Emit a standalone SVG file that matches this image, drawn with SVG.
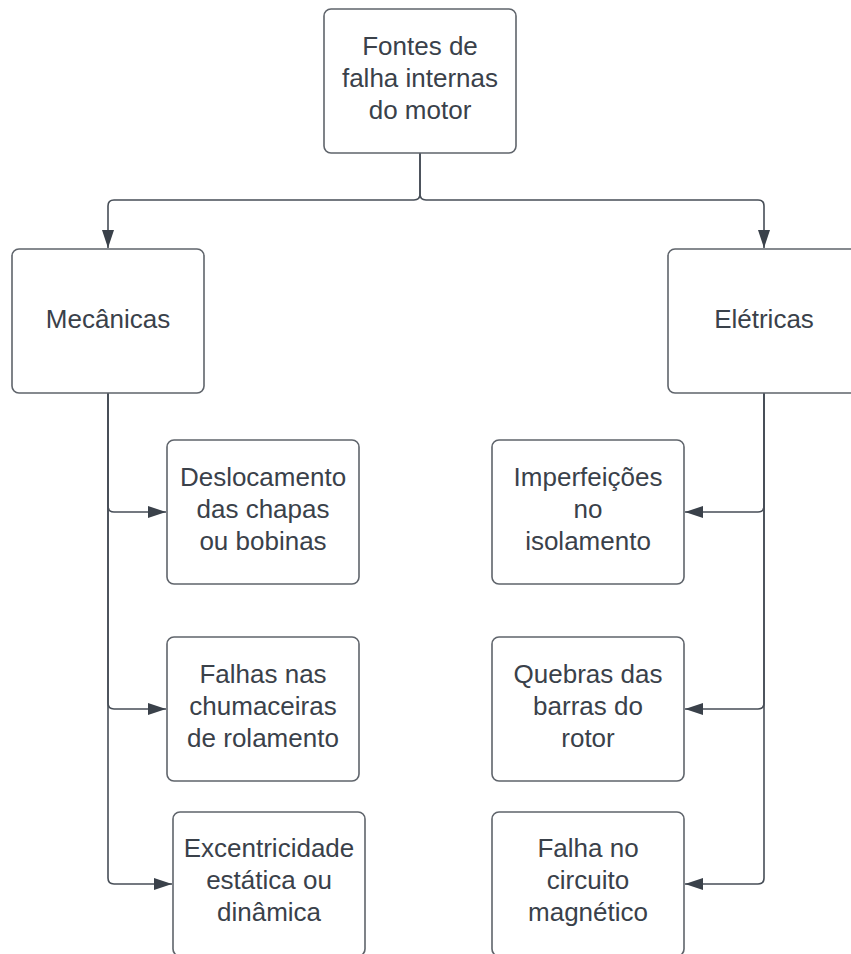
<svg xmlns="http://www.w3.org/2000/svg" width="851" height="954" viewBox="0 0 851 954">
<style>
.box{fill:#ffffff;stroke:#5f646b;stroke-width:1.6}
.t{font-family:"Liberation Sans",Arial,sans-serif;font-size:26px;fill:#3a414a;text-anchor:middle}
.c{fill:none;stroke:#474e57;stroke-width:1.6}
</style>
<defs>
<marker id="ah" markerWidth="20" markerHeight="14" refX="19" refY="7" orient="auto" markerUnits="userSpaceOnUse">
<path d="M1,1 L19,7 L1,13 Z" fill="#3a414a"/>
</marker>
</defs>
<rect width="851" height="954" fill="#ffffff"/>
<g id="connectors">
<path class="c" d="M420,153 V194 Q420,200 414,200 H114 Q108,200 108,206 V248" marker-end="url(#ah)"/>
<path class="c" d="M420,153 V194 Q420,200 426,200 H758 Q764,200 764,206 V248" marker-end="url(#ah)"/>
<path class="c" d="M108,393 V506 Q108,512 114,512 H166" marker-end="url(#ah)"/>
<path class="c" d="M108,393 V703 Q108,709 114,709 H166" marker-end="url(#ah)"/>
<path class="c" d="M108,393 V878 Q108,884 114,884 H172" marker-end="url(#ah)"/>
<path class="c" d="M764,393 V506 Q764,512 758,512 H685" marker-end="url(#ah)"/>
<path class="c" d="M764,393 V703 Q764,709 758,709 H685" marker-end="url(#ah)"/>
<path class="c" d="M764,393 V878 Q764,884 758,884 H685" marker-end="url(#ah)"/>
</g>
<g id="root">
<rect class="box" x="324" y="9" width="192" height="144" rx="7"/>
<text class="t" x="420" y="55">Fontes de</text>
<text class="t" x="420" y="87">falha internas</text>
<text class="t" x="420" y="119">do motor</text>
</g>
<g id="mecanicas">
<rect class="box" x="12" y="249" width="192" height="144" rx="7"/>
<text class="t" x="108" y="328">Mecânicas</text>
</g>
<g id="eletricas">
<rect class="box" x="668" y="249" width="192" height="144" rx="7"/>
<text class="t" x="764" y="328">Elétricas</text>
</g>
<g id="deslocamento">
<rect class="box" x="167" y="440" width="192" height="144" rx="7"/>
<text class="t" x="263" y="486">Deslocamento</text>
<text class="t" x="263" y="518">das chapas</text>
<text class="t" x="263" y="550">ou bobinas</text>
</g>
<g id="falhas">
<rect class="box" x="167" y="637" width="192" height="144" rx="7"/>
<text class="t" x="263" y="683">Falhas nas</text>
<text class="t" x="263" y="715">chumaceiras</text>
<text class="t" x="263" y="747">de rolamento</text>
</g>
<g id="excentricidade">
<rect class="box" x="173" y="812" width="192" height="144" rx="7"/>
<text class="t" x="269" y="857">Excentricidade</text>
<text class="t" x="269" y="889">estática ou</text>
<text class="t" x="269" y="921">dinâmica</text>
</g>
<g id="imperfeicoes">
<rect class="box" x="492" y="440" width="192" height="144" rx="7"/>
<text class="t" x="588" y="486">Imperfeições</text>
<text class="t" x="588" y="518">no</text>
<text class="t" x="588" y="550">isolamento</text>
</g>
<g id="quebras">
<rect class="box" x="492" y="637" width="192" height="144" rx="7"/>
<text class="t" x="588" y="683">Quebras das</text>
<text class="t" x="588" y="715">barras do</text>
<text class="t" x="588" y="747">rotor</text>
</g>
<g id="falha-circuito">
<rect class="box" x="492" y="812" width="192" height="144" rx="7"/>
<text class="t" x="588" y="857">Falha no</text>
<text class="t" x="588" y="889">circuito</text>
<text class="t" x="588" y="921">magnético</text>
</g>
</svg>
